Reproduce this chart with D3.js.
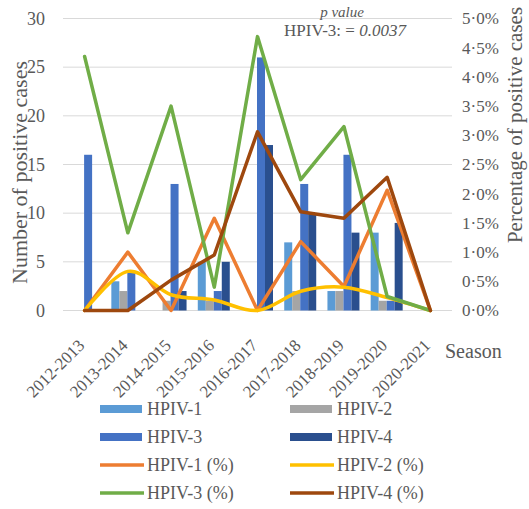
<!DOCTYPE html>
<html>
<head>
<meta charset="utf-8">
<script src="https://cdn.jsdelivr.net/npm/d3@7"></script>
<style>
  body { margin: 0; background: #fff; }
  svg text { fill: #595959; }
</style>
</head>
<body>
<svg id="chart" width="529" height="509"></svg>
<script>
// Seasons on the category axis
const seasons = ["2012-2013", "2013-2014", "2014-2015", "2015-2016", "2016-2017",
                 "2017-2018", "2018-2019", "2019-2020", "2020-2021"];

// Number of positive cases per type (bars, left axis)
const hpiv1 = [0, 3, 0, 5, 0, 7, 2, 8, 0];
const hpiv2 = [0, 2, 1, 1, 0, 2, 2, 1, 0];
const hpiv3 = [16, 4, 13, 2, 26, 13, 16, 1, 0];
const hpiv4 = [0, 0, 2, 5, 17, 10, 8, 9, 0];

// Percentage of positive cases per type (lines, right axis)
const hpiv1Pct = [0, 1.0, 0, 1.58, 0, 1.18, 0.41, 2.06, 0];
const hpiv2Pct = [0, 0.67, 0.27, 0.18, 0, 0.33, 0.40, 0.22, 0];
const hpiv3Pct = [4.35, 1.33, 3.5, 0.4, 4.69, 2.24, 3.15, 0.24, 0];
const hpiv4Pct = [0, 0, 0.52, 0.95, 3.06, 1.69, 1.58, 2.28, 0];

// Axis ticks
const countTicks = [0, 5, 10, 15, 20, 25, 30];
const pctTicks = [0, 0.5, 1, 1.5, 2, 2.5, 3, 3.5, 4, 4.5, 5];

const FONT = "'Liberation Serif', Tinos, 'Times New Roman', 'Noto Serif', 'DejaVu Serif', serif";

const barSeries = [
  { name: "HPIV-1", values: hpiv1, color: "#5B9BD5" },
  { name: "HPIV-2", values: hpiv2, color: "#A5A5A5" },
  { name: "HPIV-3", values: hpiv3, color: "#4472C4" },
  { name: "HPIV-4", values: hpiv4, color: "#2A4F8E" }
];
const lineSeries = [
  { name: "HPIV-1 (%)", values: hpiv1Pct, color: "#ED7D31", curve: d3.curveLinear },
  { name: "HPIV-2 (%)", values: hpiv2Pct, color: "#FFC000", curve: d3.curveCardinal.tension(0) },
  { name: "HPIV-3 (%)", values: hpiv3Pct, color: "#70AD47", curve: d3.curveLinear },
  { name: "HPIV-4 (%)", values: hpiv4Pct, color: "#9E480E", curve: d3.curveLinear }
];

const plot = { left: 63, right: 452, top: 18.5, bottom: 310.5 };
const svg = d3.select("#chart").style("font-family", FONT);

const x = d3.scaleBand().domain(seasons).range([plot.left, plot.right]).padding(0);
const xSub = d3.scaleBand().domain(barSeries.map(s => s.name)).range([-16.5, 15.5]).padding(0);
const yCount = d3.scaleLinear().domain([0, 30]).range([plot.bottom, plot.top]);
const yPct = d3.scaleLinear().domain([0, 5]).range([plot.bottom, plot.top]);

// Horizontal gridlines
svg.append("g")
  .selectAll("line")
  .data(countTicks)
  .join("line")
  .attr("x1", plot.left).attr("x2", plot.right)
  .attr("y1", d => yCount(d)).attr("y2", d => yCount(d))
  .attr("stroke", "#D9D9D9").attr("stroke-width", 1);

// Left axis (counts)
const leftAxis = svg.append("g")
  .attr("transform", `translate(${plot.left - 18},0)`)
  .call(d3.axisLeft(yCount).tickValues(countTicks).tickSize(0).tickPadding(0));
leftAxis.select(".domain").remove();
leftAxis.selectAll("text")
  .attr("font-size", 18).attr("fill", "#595959")
  .style("font-family", FONT);

// Right axis (percentages, middle-dot decimal)
const fmtPct = d => d.toFixed(1).replace(".", "\u00B7") + "%";
const rightAxis = svg.append("g")
  .attr("transform", `translate(${plot.right + 10},0)`)
  .call(d3.axisRight(yPct).tickValues(pctTicks).tickSize(0).tickPadding(0).tickFormat(fmtPct));
rightAxis.select(".domain").remove();
rightAxis.selectAll("text")
  .attr("font-size", 17).attr("fill", "#595959")
  .style("font-family", FONT);

// Category labels, rotated
svg.append("g")
  .selectAll("text")
  .data(seasons)
  .join("text")
  .attr("transform", d => `translate(${x(d) + x.bandwidth() / 2 + 1},${plot.bottom + 36}) rotate(-45)`)
  .attr("text-anchor", "end")
  .attr("font-size", 17)
  .style("font-family", FONT)
  .text(d => d);

// Bars
const groups = svg.append("g")
  .selectAll("g")
  .data(barSeries)
  .join("g")
  .attr("fill", s => s.color);
groups.selectAll("rect")
  .data(s => s.values.map((v, i) => ({ name: s.name, season: seasons[i], v })))
  .join("rect")
  .attr("x", d => x(d.season) + x.bandwidth() / 2 + xSub(d.name))
  .attr("width", xSub.bandwidth())
  .attr("y", d => yCount(d.v))
  .attr("height", d => yCount(0) - yCount(d.v));

// Percentage lines
lineSeries.forEach(s => {
  const line = d3.line()
    .x((d, i) => x(seasons[i]) + x.bandwidth() / 2)
    .y(d => yPct(d))
    .curve(s.curve);
  svg.append("path")
    .attr("d", line(s.values))
    .attr("fill", "none")
    .attr("stroke", s.color)
    .attr("stroke-width", 3.5)
    .attr("stroke-linejoin", "round")
    .attr("stroke-linecap", "round");
});

// Axis titles
svg.append("text")
  .attr("transform", `translate(27,${(plot.top + plot.bottom) / 2 + 8}) rotate(-90)`)
  .attr("text-anchor", "middle")
  .attr("font-size", 22)
  .text("Number of positive cases");
svg.append("text")
  .attr("transform", `translate(522,125) rotate(-90)`)
  .attr("text-anchor", "middle")
  .attr("font-size", 21)
  .text("Percentage of positive cases");
svg.append("text")
  .attr("x", 445).attr("y", 358)
  .attr("font-size", 20)
  .text("Season");

// Significance note
svg.append("text")
  .attr("x", 342).attr("y", 17)
  .attr("text-anchor", "middle")
  .attr("font-size", 15)
  .attr("font-style", "italic")
  .text("p value");
const note = svg.append("text")
  .attr("x", 345).attr("y", 36)
  .attr("text-anchor", "middle")
  .attr("font-size", 17);
note.append("tspan").text("HPIV-3: = ");
note.append("tspan").attr("font-style", "italic").text("0.0037");

// Legend
const legendItems = [...barSeries.map(s => ({ ...s, type: "bar" })),
                     ...lineSeries.map(s => ({ ...s, type: "line" }))];
const legendCols = [100, 290];
const legendRows = [409, 437, 465, 493];
const legend = svg.append("g")
  .selectAll("g")
  .data(legendItems)
  .join("g")
  .attr("transform", (d, i) => `translate(${legendCols[i % 2]},${legendRows[Math.floor(i / 2)]})`);
legend.filter(d => d.type === "bar").append("rect")
  .attr("x", 0).attr("y", -4).attr("width", 42).attr("height", 8)
  .attr("fill", d => d.color);
legend.filter(d => d.type === "line").append("line")
  .attr("x1", 0).attr("x2", 44).attr("y1", 0).attr("y2", 0)
  .attr("stroke", d => d.color).attr("stroke-width", 3.5);
legend.append("text")
  .attr("x", 47).attr("y", 0).attr("dy", "0.35em")
  .attr("font-size", 18)
  .text(d => d.name);
</script>
</body>
</html>
